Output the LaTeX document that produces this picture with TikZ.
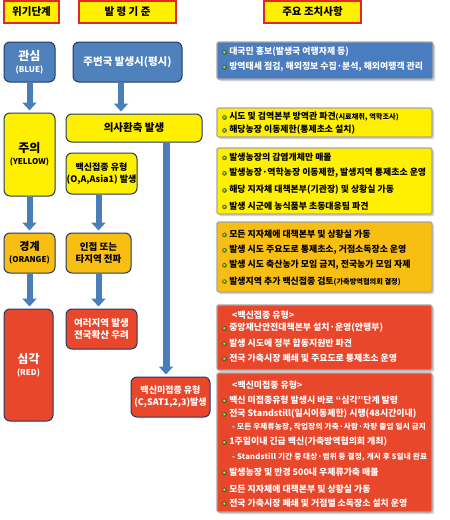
\documentclass[tikz,border=0pt]{standalone}
\usepackage{fontspec}
\setmainfont{Noto Sans CJK KR}
\newfontfamily\subfont[LetterSpace=3]{Noto Sans CJK KR}
\usetikzlibrary{arrows.meta,backgrounds,shadows}
\definecolor{hyel}{HTML}{FFF000}
\definecolor{hred}{HTML}{E3262B}
\definecolor{lblue}{HTML}{4F81BD}
\definecolor{navy}{HTML}{1F3A66}
\definecolor{lyel}{HTML}{FFF000}
\definecolor{lora}{HTML}{F8BE12}
\definecolor{lred}{HTML}{E8472B}
\definecolor{abl}{HTML}{4A7CC0}
\definecolor{agray}{HTML}{A6A6A6}
\definecolor{arrbl}{HTML}{4A7EBB}
\definecolor{bgreen}{HTML}{5FA80E}
\definecolor{dblue}{HTML}{2F5597}
\definecolor{dyel}{HTML}{F2D000}
\definecolor{dora}{HTML}{E69A00}
\definecolor{dred}{HTML}{E02020}
\newcommand{\bul}{\tikz[baseline=-0.5ex]\shade[ball color=bgreen] (0,0) circle (2.3pt);\hspace{2.5pt}}
\newcommand{\smallp}[1]{{\fontsize{7.2}{8}\selectfont #1}}
\begin{document}
\begin{tikzpicture}[x=1pt,y=-1pt,
  hdr/.style={draw=hred, line width=1.4pt, fill=hyel, inner sep=0pt, font=\bfseries\fontsize{10.5}{12}\selectfont},
  lvl/.style={draw=navy, line width=1pt, rounded corners=6pt, inner sep=0pt, align=center, font=\bfseries\fontsize{10.5}{13}\selectfont},
  act/.style={draw=agray, line width=1.2pt, rounded corners=1.5pt, inner sep=0pt,
     drop shadow={shadow xshift=2pt, shadow yshift=-2pt, fill=black!35}},
  al/.style={anchor=west, inner sep=0pt, font=\bfseries\fontsize{8.9}{11}\selectfont},
  sub/.style={anchor=west, inner sep=0pt, font=\subfont\bfseries\fontsize{7.6}{9}\selectfont},
  bigarrow/.style={draw=arrbl, line width=6pt, -{Triangle[width=14pt,length=8pt]}, shorten >=2pt},
  dl/.style={dashed, dash pattern=on 2pt off 1.5pt, line width=0.9pt}
]
\useasboundingbox (0,0) rectangle (450,520);
\fill[white] (0,0) rectangle (450,520);

% headers
\node[hdr, minimum width=55pt, minimum height=22pt] (h1) at (31.5,12) {위기단계};
\node[hdr, minimum width=97pt, minimum height=22pt] (h2) at (127.5,12) {발 령 기 준};
\node[hdr, minimum width=97pt, minimum height=22pt] (h3) at (312.5,12) {주요 조치사항};

% level boxes
\node[lvl, fill=lblue, text=white, minimum width=51pt, minimum height=40pt] (gwansim) at (29.5,62) {{\fontsize{12}{14}\selectfont 관심}\\[-1pt]{\fontsize{8}{10}\selectfont (BLUE)}};
\node[lvl, fill=lblue, text=white, minimum width=109pt, minimum height=40pt] (jubyeon) at (127.5,62) {주변국 발생시(평시)};
\node[lvl, fill=lyel, minimum width=51pt, minimum height=83pt] (juui) at (29.5,154.5) {{\fontsize{12}{14}\selectfont 주의}\\[-1pt]{\fontsize{8}{10}\selectfont (YELLOW)}};
\node[lvl, fill=lyel, minimum width=136pt, minimum height=28pt] (euisa) at (134,128) {의사환축 발생};
\node[lvl, fill=lyel, minimum width=71pt, minimum height=41pt, font=\bfseries\fontsize{9}{12}\selectfont] (vacc) at (101.5,173.5) {백신접종 유형\\(O,A,Asia1) 발생};
\node[lvl, fill=lora, minimum width=51pt, minimum height=40pt] (gyeonggye) at (29.5,253) {{\fontsize{11}{13}\selectfont 경계}\\[-1pt]{\fontsize{8}{10}\selectfont (ORANGE)}};
\node[lvl, fill=lora, minimum width=65pt, minimum height=40pt, font=\bfseries\fontsize{9.5}{12}\selectfont] (injeop) at (98.5,253) {인접 또는\\타지역 전파};
\node[lvl, fill=lred, text=white, minimum width=49pt, minimum height=112pt] (simgak) at (28.5,365) {{\fontsize{12}{14}\selectfont 심각}\\[-1pt]{\fontsize{8}{10}\selectfont (RED)}};
\node[lvl, fill=lred, text=white, minimum width=71pt, minimum height=40pt, font=\bfseries\fontsize{9.5}{12}\selectfont] (yeoreo) at (101.5,329) {여러지역 발생\\전국확산 우려};
\node[lvl, fill=lred, text=white, minimum width=79pt, minimum height=40pt, font=\bfseries\fontsize{9}{12}\selectfont] (vaccno) at (170.5,397) {백신미접종 유형\\(C,SAT1,2,3)발생};

% action boxes
\node[act, fill=abl, minimum width=216pt, minimum height=37pt] (a1) at (325,60.5) {};
\node[act, fill=lyel, minimum width=215pt, minimum height=29pt] (a2) at (324.5,122.5) {};
\node[act, fill=lyel, minimum width=215pt, minimum height=66pt] (a3) at (324.5,181) {};
\node[act, fill=lora, minimum width=215pt, minimum height=70pt] (a4) at (324.5,257) {};
\node[act, fill=lred, minimum width=215pt, minimum height=65pt] (a5) at (324.5,337.5) {};
\node[act, fill=lred, minimum width=215pt, minimum height=139pt] (a6) at (324.5,442.5) {};

% dashed connectors (behind)
\begin{pgfonlayer}{background}
\draw[dl, draw=dblue] (gwansim.east |- 0,61) -- (a1.west |- 0,61);
\draw[dl, draw=dyel] (euisa.east |- 0,125) -- (a2.west |- 0,125);
\draw[dl, draw=dyel] (juui.east |- 0,170) -- (a3.west |- 0,170);
\draw[dl, draw=dora] (gyeonggye.east |- 0,258) -- (a4.west |- 0,258);
\draw[dl, draw=dred] (simgak.east |- 0,329) -- (a5.west |- 0,329);
\draw[dl, draw=dred] (simgak.east |- 0,397) -- (a6.west |- 0,397);
\end{pgfonlayer}

% big arrows
\draw[bigarrow] (gwansim.south) -- (juui.north);
\draw[bigarrow] ([xshift=-6.5pt]jubyeon.south) -- ([xshift=-6.5pt]jubyeon.south |- euisa.north);
\draw[bigarrow] (juui.south) -- (gyeonggye.north);
\draw[bigarrow] (vacc.south -| injeop.south) -- (injeop.north);
\draw[bigarrow] (gyeonggye.south) -- (gyeonggye.south |- simgak.north);
\draw[bigarrow] (injeop.south) -- (injeop.south |- yeoreo.north);
\draw[bigarrow, line width=7pt] ([xshift=-4.5pt]vaccno.north |- euisa.south) -- ([xshift=-4.5pt]vaccno.north);

% action texts
\node[al, text=white] (a1l1) at (222,52) {\bul 대국민 홍보(발생국 여행자제 등)};
\node[al, text=white] (a1l2) at (222,67) {\bul 방역태세 점검, 해외정보 수집·분석, 해외여행객 관리};

\node[al] (a2l1) at (222,117) {\bul 시도 및 검역본부 방역관 파견\smallp{(시료채취, 역학조사)}};
\node[al] (a2l2) at (222,130) {\bul 해당농장 이동제한(통제초소 설치)};

\node[al] (a3l1) at (222,157) {\bul 발생농장의 감염개체만 매몰};
\node[al] (a3l2) at (222,173) {\bul 발생농장·역학농장 이동제한, 발생지역 통제초소 운영};
\node[al] (a3l3) at (222,190) {\bul 해당 지자체 대책본부(기관장) 및 상황실 가동};
\node[al] (a3l4) at (222,206) {\bul 발생 시군에 농식품부 초동대응팀 파견};

\node[al] (a4l1) at (222,234) {\bul 모든 지자체에 대책본부 및 상황실 가동};
\node[al] (a4l2) at (222,250) {\bul 발생 시도 주요도로 통제초소, 거점소독장소 운영};
\node[al] (a4l3) at (222,265) {\bul 발생 시도 축산농가 모임 금지, 전국농가 모임 자제};
\node[al] (a4l4) at (222,281) {\bul 발생지역 추가 백신접종 검토\smallp{(가축방역협의회 결정)}};

\node[al, text=white] (a5l0) at (232,315) {<백신접종 유형>};
\node[al, text=white] (a5l1) at (222,328) {\bul 중앙재난안전대책본부 설치·운영(안행부)};
\node[al, text=white] (a5l2) at (222,343) {\bul 발생 시도에 정부 합동지원반 파견};
\node[al, text=white] (a5l3) at (222,358) {\bul 전국 가축시장 폐쇄 및 주요도로 통제초소 운영};

\node[al, text=white] (a6l0) at (232,385) {<백신미접종 유형>};
\node[al, text=white] (a6l1) at (222,400) {\bul 백신 미접종유형 발생시 바로 “심각”단계 발령};
\node[al, text=white] (a6l2) at (222,414) {\bul 전국 Standstill(일시이동제한) 시행(48시간이내)};
\node[sub, text=white] (a6l3) at (232,427) {- 모든 우제류농장, 작업장의 가축·사람·차량 출입 일시 금지};
\node[al, text=white] (a6l4) at (222,442) {\bul 1주일이내 긴급 백신(가축방역협의회 개최)};
\node[sub, text=white] (a6l5) at (232,457) {- Standstill 기간 중 대상·범위 등 결정, 개시 후 5일내 완료};
\node[al, text=white] (a6l6) at (222,472) {\bul 발생농장 및 반경 500내 우제류가축 매몰};
\node[al, text=white] (a6l7) at (222,489) {\bul 모든 지자체에 대책본부 및 상황실 가동};
\node[al, text=white] (a6l8) at (222,503) {\bul 전국 가축시장 폐쇄 및 거점별 소독장소 설치 운영};
\end{tikzpicture}
\end{document}
